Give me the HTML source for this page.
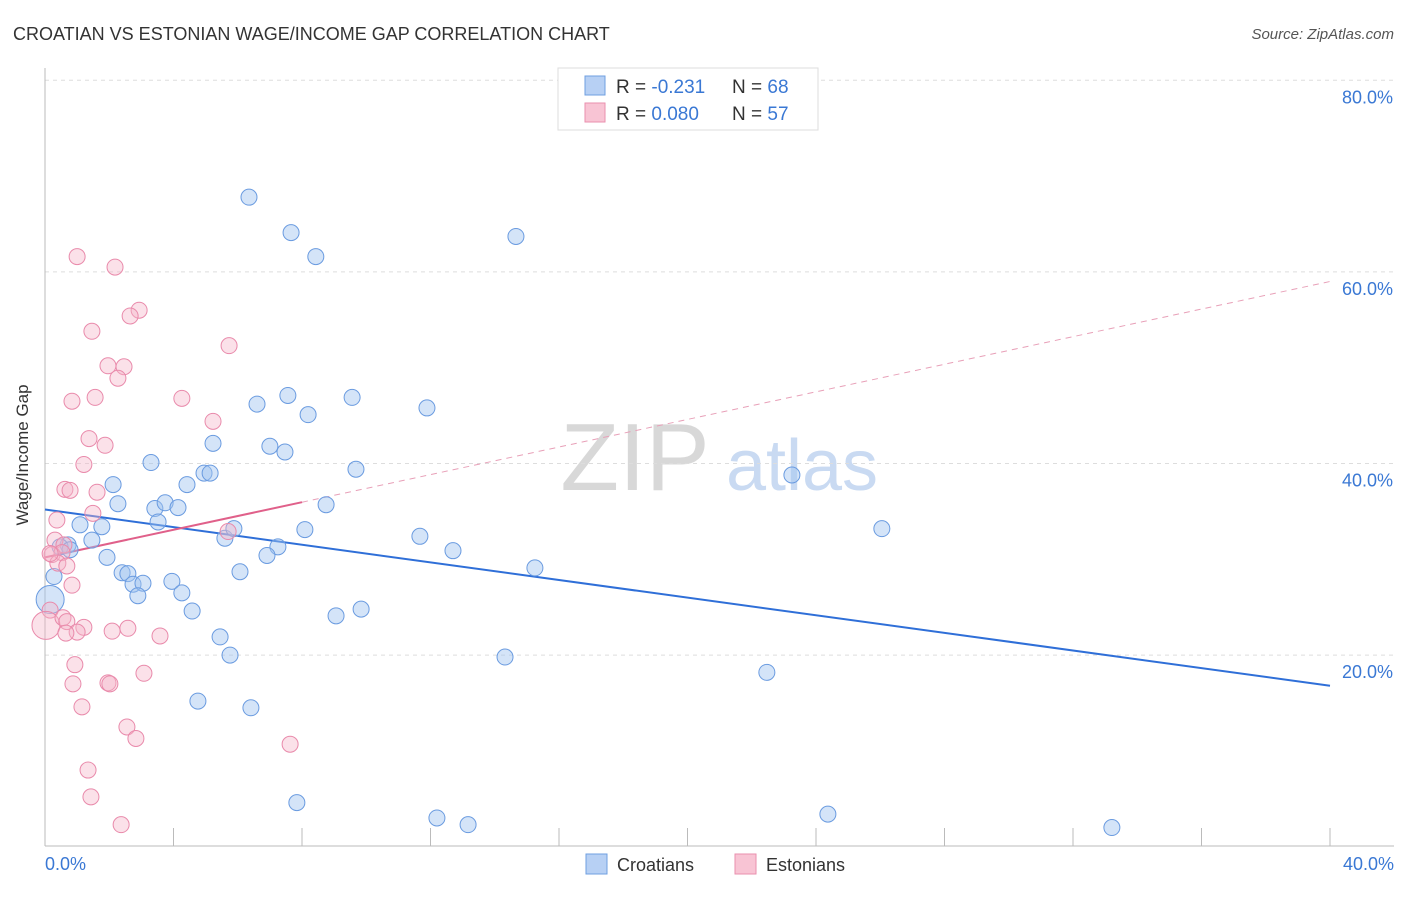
<!DOCTYPE html>
<html><head><meta charset="utf-8"><style>
body{margin:0;background:#fff;font-family:"Liberation Sans",sans-serif}
svg text{font-family:"Liberation Sans",sans-serif}
</style></head><body>
<svg id="chart" width="1406" height="892" viewBox="0 0 1406 892" xmlns="http://www.w3.org/2000/svg">
<text x="13" y="40" font-size="18" fill="#333">CROATIAN VS ESTONIAN WAGE/INCOME GAP CORRELATION CHART</text>
<text x="1394" y="39" font-size="15" fill="#555" font-style="italic" text-anchor="end">Source: ZipAtlas.com</text>
<g>
<text x="635" y="490" font-size="96" fill="#d8d8d8" text-anchor="middle" font-family="Liberation Serif,serif">ZIP</text>
<text x="802" y="490" font-size="72" fill="#c9daf2" text-anchor="middle">atlas</text>
</g>
<g id="grid"></g>
<g id="axes"></g>
<g id="lines"></g>
<g id="points"></g>
<text x="28" y="455" font-size="17" fill="#333" text-anchor="middle" transform="rotate(-90 28 455)">Wage/Income Gap</text>
<g>
<rect x="558" y="68" width="260" height="62" fill="#fff" stroke="#ddd"/>
<rect x="585" y="76" width="20" height="19" fill="#b7d0f4" stroke="#6f9fe0"/>
<rect x="585" y="103" width="20" height="19" fill="#f8c4d4" stroke="#ea8fae"/>
<text x="616" y="93" font-size="19" fill="#333">R = <tspan fill="#3a78d4">-0.231</tspan><tspan x="732">N = </tspan><tspan fill="#3a78d4">68</tspan></text>
<text x="616" y="120" font-size="19" fill="#333">R = <tspan fill="#3a78d4">0.080</tspan><tspan x="732">N = </tspan><tspan fill="#3a78d4">57</tspan></text>
</g>
<g>
<rect x="586" y="854" width="21" height="20" fill="#b7d0f4" stroke="#6f9fe0"/>
<text x="617" y="871" font-size="18" fill="#333">Croatians</text>
<rect x="735" y="854" width="21" height="20" fill="#f8c4d4" stroke="#ea8fae"/>
<text x="766" y="871" font-size="18" fill="#333">Estonians</text>
</g>
</svg>
<script>
const blueX=[6.35,7.66,8.43,14.66,6.60,7.56,8.19,9.56,11.89,3.30,5.23,7.00,7.47,4.95,5.14,4.42,2.12,2.27,3.42,3.74,4.14,3.52,8.75,9.68,23.25,26.05,1.09,1.77,1.46,0.72,0.47,0.78,1.93,5.60,5.88,8.09,7.25,6.91,11.67,12.70,15.25,2.40,2.58,2.74,3.05,3.95,4.26,2.89,6.07,4.58,5.45,5.76,9.06,9.84,14.32,22.47,4.76,6.41,7.84,12.20,13.17,24.37,33.21,0.28,0.16];
const blueY=[67.8,64.1,61.6,63.7,46.2,47.1,45.1,46.9,45.8,40.1,42.1,41.8,41.2,39.0,39.0,37.8,37.8,35.8,35.3,35.9,35.4,33.9,35.7,39.4,38.8,33.2,33.6,33.4,32.0,31.5,31.3,31.0,30.2,32.2,33.2,33.1,31.3,30.4,32.4,30.9,29.1,28.6,28.5,27.4,27.5,27.7,26.5,26.2,28.7,24.6,21.9,20.0,24.1,24.8,19.8,18.2,15.2,14.5,4.6,3.0,2.3,3.4,2.0,28.2,25.8];
const pinkX=[1.00,2.18,1.46,2.93,2.65,5.73,1.96,2.46,2.27,0.84,1.56,4.26,5.23,1.37,1.87,1.21,0.62,0.78,1.62,1.49,0.37,0.31,0.59,0.22,0.53,0.40,0.68,0.16,5.70,0.84,0.16,0.03,0.56,0.68,1.21,1.00,0.65,2.09,2.58,3.58,0.93,0.87,1.96,2.02,3.08,1.15,2.55,2.83,7.63,1.34,1.43,2.37];
const pinkY=[61.6,60.5,53.8,56.0,55.4,52.3,50.2,50.1,48.9,46.5,46.9,46.8,44.4,42.6,41.9,39.9,37.3,37.2,37.0,34.8,34.1,32.0,31.5,30.5,30.7,29.6,29.3,30.6,32.9,27.3,24.7,23.1,23.9,23.5,22.9,22.4,22.3,22.5,22.8,22.0,19.0,17.0,17.1,17.0,18.1,14.6,12.5,11.3,10.7,8.0,5.2,2.3];
const yTicks=[20,40,60,80];
const yTickLabels=["20.0%","40.0%","60.0%","80.0%"];
const blueTrend=[35.2,16.8];
const pinkTrend=[30.2,0.72];
const NS="http://www.w3.org/2000/svg";
const X=v=>45+v*32.125, Y=v=>846.7-v*9.58;
function mk(tag,attrs,parent){const e=document.createElementNS(NS,tag);for(const k in attrs)e.setAttribute(k,attrs[k]);parent.appendChild(e);return e;}
const grid=document.getElementById('grid'),axes=document.getElementById('axes'),lines=document.getElementById('lines'),pts=document.getElementById('points');
yTicks.forEach((t,i)=>{
 const l=mk('line',{x1:45,x2:1394,y1:Y(t),y2:Y(t),stroke:'#ddd','stroke-dasharray':'4,4'},grid);
 
 
 const tx=mk('text',{x:1393,y:Y(t)+23,'font-size':18,fill:'#3a78d4','text-anchor':'end'},axes);
 tx.textContent=yTickLabels[i];
 
 
});
mk('line',{x1:45,x2:45,y1:68,y2:846,stroke:'#bbb'},axes);
mk('line',{x1:45,x2:1394,y1:846,y2:846,stroke:'#bbb'},axes);
for(let i=0;i<=10;i++){const tk=mk('line',{x1:X(i*4),x2:X(i*4),y1:828,y2:846,stroke:'#bbb'},axes);
 
 }
const x0=mk('text',{x:45,y:870,'font-size':18,fill:'#3a78d4'},axes);x0.textContent='0.0%';


const x1=mk('text',{x:1394,y:870,'font-size':18,fill:'#3a78d4','text-anchor':'end'},axes);x1.textContent='40.0%';


blueX.forEach((v,i)=>{const big=i>=blueX.length-1;const c=mk('circle',{cx:X(v),cy:Y(blueY[i]),r:big?14:8,fill:'rgba(160,195,240,0.45)',stroke:'#6a9be0','stroke-width':1},pts);
 
 });
pinkX.forEach((v,i)=>{const big=i===31;const c=mk('circle',{cx:X(v),cy:Y(pinkY[i]),r:big?14:8,fill:'rgba(245,180,200,0.4)',stroke:'#e98aab','stroke-width':1},pts);
 
 });
const bl=mk('line',{x1:X(0),y1:Y(blueTrend[0]),x2:X(40),y2:Y(blueTrend[1]),stroke:'#2f6fd8','stroke-width':2},lines);


const pl=mk('line',{x1:X(0),y1:Y(pinkTrend[0]),x2:X(8),y2:Y(pinkTrend[0]+pinkTrend[1]*8),stroke:'#e0608a','stroke-width':2},lines);


const pd=mk('line',{x1:X(8),y1:Y(pinkTrend[0]+pinkTrend[1]*8),x2:X(40),y2:Y(pinkTrend[0]+pinkTrend[1]*40),stroke:'#e8a0b8','stroke-width':1,'stroke-dasharray':'6,5'},lines);


</script>
</body></html>
